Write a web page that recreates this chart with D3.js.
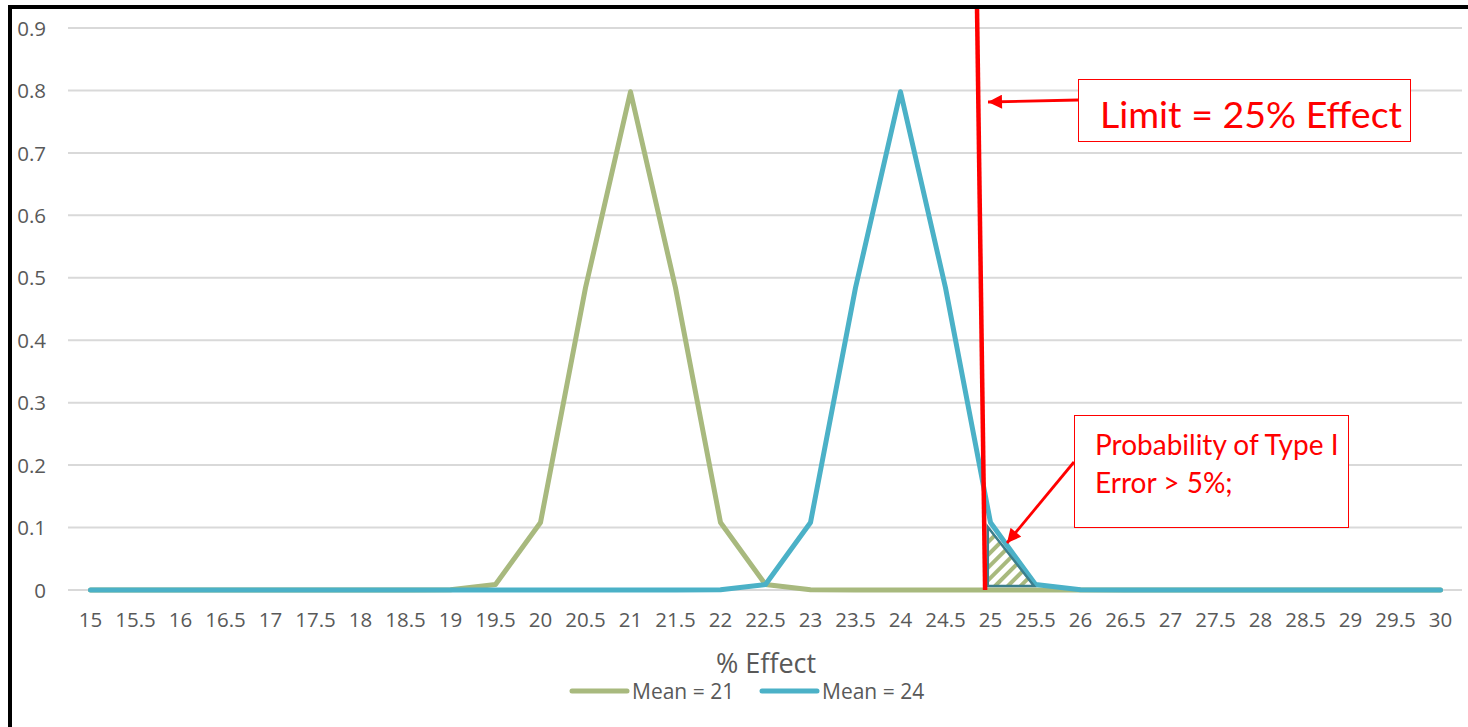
<!DOCTYPE html>
<html>
<head>
<meta charset="utf-8">
<script src="https://cdn.jsdelivr.net/npm/d3@7/dist/d3.min.js"></script>
<style>
  html, body { margin: 0; padding: 0; background: #fff; }
  svg { display: block; }
</style>
</head>
<body>
<svg id="chart" width="1468" height="727"></svg>
<script>
// ---- data ----
const categories = ["15","15.5","16","16.5","17","17.5","18","18.5","19","19.5","20","20.5","21","21.5","22","22.5","23","23.5","24","24.5","25","25.5","26","26.5","27","27.5","28","28.5","29","29.5","30"];
const mean21 = [0,0,0,0,0,0,0,0,0.000268,0.00886,0.108,0.484,0.798,0.484,0.108,0.00886,0.000268,0,0,0,0,0,0,0,0,0,0,0,0,0,0];
const mean24 = [0,0,0,0,0,0,0,0,0,0,0,0,0,0,0.000268,0.00886,0.108,0.484,0.798,0.484,0.108,0.00886,0.000268,0,0,0,0,0,0,0,0];
const yTicks = [0,0.1,0.2,0.3,0.4,0.5,0.6,0.7,0.8,0.9];
const yTickLabels = ["0","0.1","0.2","0.3","0.4","0.5","0.6","0.7","0.8","0.9"];
const seriesNames = ["Mean = 21","Mean = 24"];
const xTitle = "% Effect";
const limitLabel = "Limit = 25% Effect";
const errorLabel = ["Probability of Type I","Error > 5%;"];
</script>
<script>
const svg = d3.select("#chart");
const colors = ["#A8B97E", "#4BB1C7"];
const grey = "#595959";
const red = "#FF0000";

const x = d3.scaleBand().domain(categories).range([68, 1463]);
const xc = c => x(c) + x.bandwidth() / 2;
// numeric helper on the same category positions (for annotations)
const xv = d3.scaleLinear().domain([15, 30]).range([xc("15"), xc("30")]);
const y = d3.scaleLinear().domain([0, 0.9]).range([590, 28]);

const defs = svg.append("defs");
const pat = defs.append("pattern")
  .attr("id", "hatch").attr("patternUnits", "userSpaceOnUse")
  .attr("width", 9).attr("height", 9)
  .attr("patternTransform", "rotate(45)");
pat.append("rect").attr("width", 9).attr("height", 9).attr("fill", "#fff");
pat.append("rect").attr("x", 0).attr("y", 0).attr("width", 4).attr("height", 9).attr("fill", colors[0]);

defs.append("marker").attr("id", "arrow")
  .attr("viewBox", "0 0 10 10").attr("refX", 10).attr("refY", 5)
  .attr("markerWidth", 5.5).attr("markerHeight", 5)
  .attr("markerUnits", "strokeWidth")
  .attr("orient", "auto")
  .append("path").attr("d", "M0,0 L10,5 L0,10 Z").attr("fill", red);

// gridlines
svg.append("g").selectAll("line").data(yTicks).join("line")
  .attr("x1", 68).attr("x2", 1462)
  .attr("y1", d => y(d)).attr("y2", d => y(d))
  .attr("stroke", "#D9D9D9").attr("stroke-width", 2);

// y axis labels
const yAxis = d3.axisLeft(y).tickValues(yTicks).tickFormat((d, i) => yTickLabels[i]).tickSize(0).tickPadding(0);
const gy = svg.append("g").attr("transform", "translate(46,0)").call(yAxis);
gy.select(".domain").remove();
gy.selectAll("text").attr("fill", grey).style("font-family", "'Open Sans', sans-serif").style("font-size", "20.5px").attr("dy", "0.35em");

// x axis labels
const xAxis = d3.axisBottom(x).tickSize(0).tickPadding(0);
const gx = svg.append("g").attr("transform", "translate(0,612)").call(xAxis);
gx.select(".domain").remove();
gx.selectAll("text").attr("fill", grey).style("font-family", "'Open Sans', sans-serif").style("font-size", "20.5px").attr("dy", "0.71em");

// series
const line = d3.line().x((d, i) => xc(categories[i])).y(d => y(d));
[mean21, mean24].forEach((s, k) => {
  svg.append("path").datum(s).attr("d", line)
    .attr("fill", "none").attr("stroke", colors[k]).attr("stroke-width", 5)
    .attr("stroke-linejoin", "round").attr("stroke-linecap", "round");
});

// hatched area (Type I error region)
const tri = [[24.97, 0.1009], [25.483, 0.0064], [24.97, 0.0064]];
svg.append("path")
  .attr("d", "M" + tri.map(p => [xv(p[0]), y(p[1])].join(",")).join("L") + "Z")
  .attr("fill", "url(#hatch)").attr("stroke", "#3B7E8C").attr("stroke-width", 2.5)
  .attr("stroke-linejoin", "miter");

// limit line
svg.append("line")
  .attr("x1", xv(24.85)).attr("y1", y(0.934))
  .attr("x2", xv(24.94)).attr("y2", y(0))
  .attr("stroke", red).attr("stroke-width", 4.5);

// annotation 1
svg.append("rect").attr("x", 1078.5).attr("y", 79.5).attr("width", 332).attr("height", 62)
  .attr("fill", "#fff").attr("stroke", red).attr("stroke-width", 1);
svg.append("text").attr("x", 1100).attr("y", 128).text(limitLabel)
  .attr("fill", red).style("font-family", "Lato, sans-serif").style("font-size", "37.5px");
svg.append("line").attr("x1", 1078).attr("y1", 100).attr("x2", 988).attr("y2", 102)
  .attr("stroke", red).attr("stroke-width", 2.8).attr("marker-end", "url(#arrow)");

// annotation 2
svg.append("rect").attr("x", 1074.5).attr("y", 415.5).attr("width", 274).attr("height", 112)
  .attr("fill", "#fff").attr("stroke", red).attr("stroke-width", 1);
svg.append("text").attr("x", 1095).attr("y", 455).text(errorLabel[0])
  .attr("fill", red).style("font-family", "Lato, sans-serif").style("font-size", "28px");
svg.append("text").attr("x", 1095).attr("y", 493).text(errorLabel[1])
  .attr("fill", red).style("font-family", "Lato, sans-serif").style("font-size", "28px");
svg.append("line").attr("x1", 1074).attr("y1", 462).attr("x2", 1007).attr("y2", 543)
  .attr("stroke", red).attr("stroke-width", 2.8).attr("marker-end", "url(#arrow)");

// x title
svg.append("text").attr("x", 766).attr("y", 673).attr("text-anchor", "middle").text(xTitle)
  .attr("fill", grey).style("font-family", "'Open Sans', sans-serif").style("font-size", "27px");

// legend
const legX = [572, 762];
seriesNames.forEach((n, k) => {
  svg.append("line").attr("x1", legX[k]).attr("x2", legX[k] + 55).attr("y1", 691).attr("y2", 691)
    .attr("stroke", colors[k]).attr("stroke-width", 5).attr("stroke-linecap", "round");
  svg.append("text").attr("x", legX[k] + 60).attr("y", 699).text(n)
    .attr("fill", grey).style("font-family", "'Open Sans', sans-serif").style("font-size", "21px");
});

// frame (top and left border)
svg.append("line").attr("x1", 8).attr("x2", 1468).attr("y1", 7).attr("y2", 7).attr("stroke", "#000").attr("stroke-width", 4);
svg.append("line").attr("x1", 10).attr("x2", 10).attr("y1", 5).attr("y2", 727).attr("stroke", "#000").attr("stroke-width", 4);
</script>
</body>
</html>
